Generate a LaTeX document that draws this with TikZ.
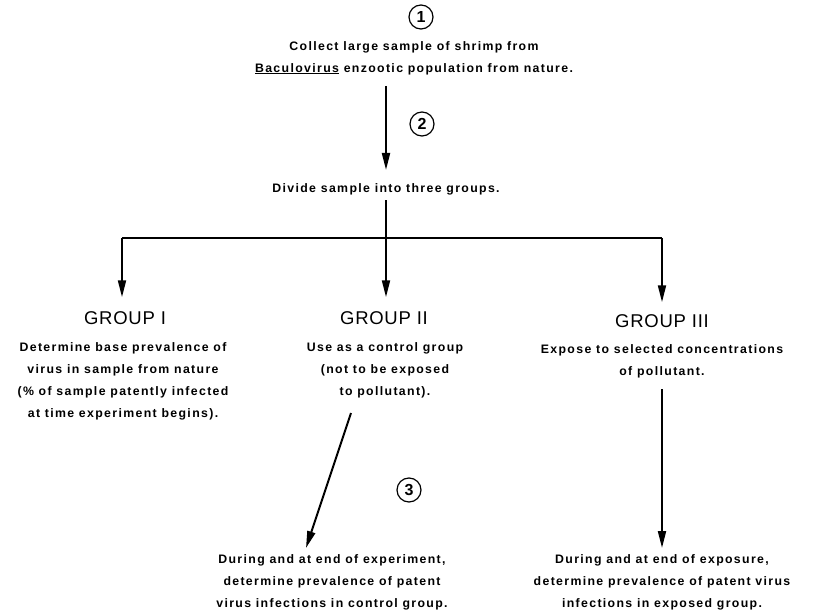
\documentclass[tikz,border=0pt]{standalone}
\usepackage{fontspec}
\setmainfont{Liberation Sans}[LetterSpace=11]
\newfontfamily\headfont{Liberation Sans}[LetterSpace=4]
\usetikzlibrary{arrows.meta}
\begin{document}
\begin{tikzpicture}[x=1pt,y=-1pt,
  txt/.style={align=center,font=\fontsize{12.3}{22}\selectfont\bfseries,inner sep=0pt},
  head/.style={font=\headfont\fontsize{18.5}{20}\selectfont,inner sep=0pt},
  num/.style={circle,draw,line width=1.2pt,minimum size=24pt,inner sep=0pt,font=\headfont\fontsize{16}{16}\selectfont\bfseries},
  conn/.style={line width=2pt},
  arr/.style={conn,-{Triangle[length=17pt,width=8pt]}}]
\useasboundingbox (0,0) rectangle (817,615);
\node[num] (c1) at (421,17) {1};
\node[txt,anchor=north] (t1) at (414,41) {Collect large sample of shrimp from\\\underline{Baculovirus} enzootic population from nature.};
\coordinate (a1s) at (386,86);
\coordinate (a1e) at (386,170);
\node[num] (c2) at (422,124) {2};
\node[txt] (t2) at (386,189) {Divide sample into three groups.};
\draw[arr] (a1s) -- (a1e);
\coordinate (h0) at (386,200);
\coordinate (hm) at (386,238);
\coordinate (hl) at (122,238);
\coordinate (hr) at (662,238);
\draw[conn] (h0) -- (hm);
\draw[conn] (hl) -- (hr);
\node[head] (g1) at (125,318) {GROUP I};
\node[head] (g2) at (384,318) {GROUP II};
\node[head] (g3) at (662,321) {GROUP III};
\draw[arr] (hl) -- ([yshift=14pt]g1.north -| hl);
\draw[arr] (hm) -- ([yshift=14pt]g2.north -| hm);
\draw[arr] (hr) -- ([yshift=12pt]g3.north -| hr);
\node[txt,anchor=north] (d1) at (123,342) {Determine base prevalence of\\virus in sample from nature\\(\% of sample patently infected\\at time experiment begins).};
\node[txt,anchor=north] (d2) at (385,342) {Use as a control group\\(not to be exposed\\to pollutant).};
\node[txt,anchor=north] (d3) at (662,344) {Expose to selected concentrations\\of pollutant.};
\node[num] (c3) at (409,490) {3};
\node[txt,anchor=north] (b1) at (332,554) {During and at end of experiment,\\determine prevalence of patent\\virus infections in control group.};
\node[txt,anchor=north] (b2) at (662,554) {During and at end of exposure,\\determine prevalence of patent virus\\infections in exposed group.};
\coordinate (s2) at (351,413);
\coordinate (e2) at (306,548);
\draw[arr] (s2) -- (e2);
\coordinate (s3) at (662,389);
\draw[arr] (s3) -- ([yshift=6pt]b2.north -| s3);
\end{tikzpicture}
\end{document}
